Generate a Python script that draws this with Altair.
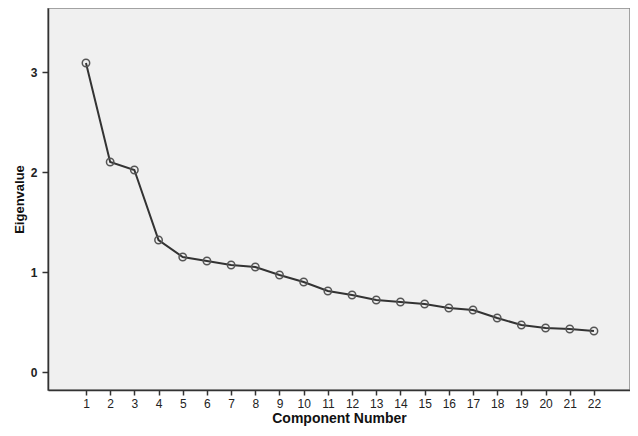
import altair as alt
import pandas as pd

components = list(range(1, 23))
eigenvalues = [3.09, 2.10, 2.02, 1.32, 1.15, 1.11, 1.07, 1.05, 0.97, 0.90, 0.81,
               0.77, 0.72, 0.70, 0.68, 0.64, 0.62, 0.54, 0.47, 0.44, 0.43, 0.41]
x_ticks = components
y_ticks = [0, 1, 2, 3]

df = pd.DataFrame({"Component Number": components, "Eigenvalue": eigenvalues})

x = alt.X("Component Number:Q",
          scale=alt.Scale(domain=[-0.57, 23.49], nice=False, zero=False),
          axis=alt.Axis(values=x_ticks, title="Component Number", grid=False,
                        domainColor="#333", domainWidth=1.5,
                        tickColor="#333", tickSize=5, tickWidth=1.5,
                        labelPadding=3, labelFontSize=12, labelColor="#222",
                        labelFont="Liberation Sans", labelFlush=False,
                        titleFont="Liberation Sans", titleFontSize=14,
                        titleFontWeight="bold", titleColor="#111", titlePadding=2))
y = alt.Y("Eigenvalue:Q",
          scale=alt.Scale(domain=[-0.18, 3.64], nice=False, zero=False),
          axis=alt.Axis(values=y_ticks, title="Eigenvalue", grid=False,
                        domainColor="#333", domainWidth=1.5,
                        tickColor="#333", tickSize=6, tickWidth=1.5,
                        labelPadding=5, labelFontSize=12, labelColor="#222",
                        labelFont="Liberation Sans", labelFontWeight="bold",
                        titleFont="Liberation Sans", titleFontSize=13,
                        titleFontWeight="bold", titleColor="#111", titlePadding=4))

line = alt.Chart(df).mark_line(color="#333", strokeWidth=2).encode(x=x, y=y)
pts = alt.Chart(df).mark_point(shape="circle", filled=False, size=55,
                               stroke="#555", strokeWidth=1.5, opacity=1).encode(x=x, y=y)

chart = (line + pts).properties(
    width=582, height=382,
    autosize=alt.AutoSizeParams(type="none"),
    padding={"left": 40, "top": 0, "right": 0, "bottom": 38},
    background="white",
).configure_view(fill="#f0f0f0", stroke="#888", strokeWidth=1.5)

chart.save("out.html", embed_options={"renderer": "svg", "actions": False})
